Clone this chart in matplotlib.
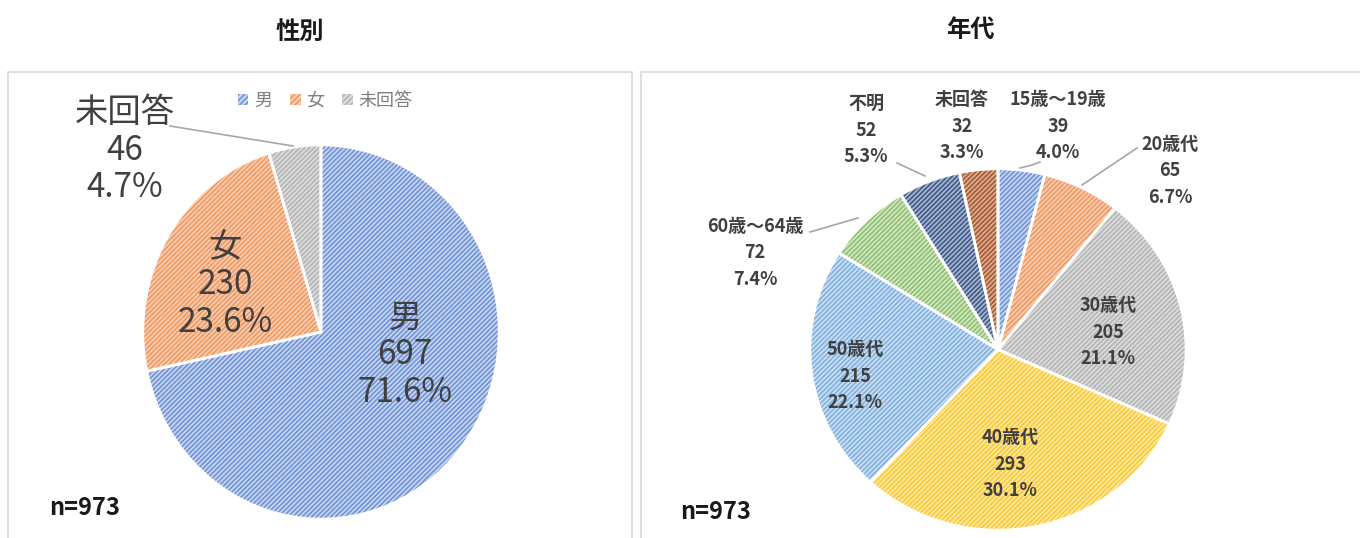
import matplotlib
matplotlib.use("Agg")
import matplotlib.pyplot as plt
from matplotlib.patches import Rectangle, Patch
from matplotlib.lines import Line2D

plt.rcParams['font.family'] = ['Noto Sans CJK JP', 'DejaVu Sans']
plt.rcParams['hatch.linewidth'] = 1.2

W, H = 1360, 538

# ---- data ----
sex_labels = ["男", "女", "未回答"]
sex_counts = [697, 230, 46]
sex_pct = [71.6, 23.6, 4.7]

age_labels = ["15歳～19歳", "20歳代", "30歳代", "40歳代", "50歳代",
              "60歳～64歳", "不明", "未回答"]
age_counts = [39, 65, 205, 293, 215, 72, 52, 32]
age_pct = [4.0, 6.7, 21.1, 30.1, 22.1, 7.4, 5.3, 3.3]

# light fill / hatch colour pairs (Office palette, washed out by the hatch)
sex_face = ["#c9d6f0", "#f8cdb3", "#dcdcdc"]
sex_hatch = ["#6f93d6", "#f09a62", "#b5b5b5"]
age_face = ["#c9d6f0", "#f8cdb3", "#dcdcdc", "#fde9a8", "#cde0f3", "#d2e6c4",
            "#a9b6cc", "#d9ad96"]
age_hatch = ["#6f93d6", "#f09a62", "#b5b5b5", "#ffc933", "#80b1df", "#8fc06f",
             "#3f5a8c", "#a85a2e"]


def px(x, y):
    return x / W, 1 - y / H


def pie_axes(x0, y0, x1, y1):
    ax = fig.add_axes([x0 / W, 1 - y1 / H, (x1 - x0) / W, (y1 - y0) / H])
    ax.axis('off')
    return ax


def hatched_pie(ax, vals, face, hatch):
    wedges, _ = ax.pie(vals, startangle=90, counterclock=False, radius=1,
                       colors=face, wedgeprops=dict(linewidth=0))
    for w, hc in zip(wedges, hatch):
        w.set_hatch('///////')
        w.set_edgecolor(hc)
        w.set_linewidth(0)
    ax.pie(vals, startangle=90, counterclock=False, radius=1,
           colors=['none'] * len(vals),
           wedgeprops=dict(linewidth=2, edgecolor='white'))
    # stretch the pie to fill the axes box (slightly elliptic like the source)
    ax.set_aspect('auto')
    ax.set_xlim(-1.01, 1.01); ax.set_ylim(-1.01, 1.01)
    return wedges


def leader(pts):
    xs = [px(x, y)[0] for x, y in pts]
    ys = [px(x, y)[1] for x, y in pts]
    fig.add_artist(Line2D(xs, ys, color='#a6a6a6', lw=1.2))


fig = plt.figure(figsize=(W / 100, H / 100), dpi=100)

# panel frames
fig.add_artist(Rectangle(px(8, 545), 624 / W, 473 / H, fill=False,
                         edgecolor='#d9d9d9', lw=1.2))
fig.add_artist(Rectangle(px(641, 545), 730 / W, 473 / H, fill=False,
                         edgecolor='#d9d9d9', lw=1.2))

# titles
fig.text(*px(300, 32), "性別", ha='center', va='center', fontsize=17.5,
         fontweight='bold', color='#1a1a1a')
fig.text(*px(970, 30), "年代", ha='center', va='center', fontsize=17.5,
         fontweight='bold', color='#1a1a1a')

# ---- left: sex ----
ax1 = pie_axes(141, 143, 501, 521)
hatched_pie(ax1, sex_counts, sex_face, sex_hatch)

big = dict(ha='center', va='center', fontsize=24, color='#404040',
           linespacing=1.08)
sex_pos = [(405, 355), (225, 285), (125, 150)]
for lab, n, p, (x, y) in zip(sex_labels, sex_counts, sex_pct, sex_pos):
    fig.text(*px(x, y), f"{lab}\n{n}\n{p:.1f}%", **big)
leader([(170, 126), (293, 146)])

handles = [Patch(facecolor=f, edgecolor=h, hatch='//////', lw=0)
           for f, h in zip(sex_face, sex_hatch)]
fig.legend(handles, sex_labels, loc='center', bbox_to_anchor=px(325, 101),
           ncol=3, frameon=False, fontsize=13, handlelength=0.6,
           handleheight=0.6, handletextpad=0.3, columnspacing=1.0,
           labelcolor='#7f7f7f')

fig.text(*px(85, 508), "n=973", ha='center', va='center', fontsize=17,
         fontweight='bold', color='#1a1a1a')

# ---- right: age ----
ax2 = pie_axes(808, 167, 1188, 532)
hatched_pie(ax2, age_counts, age_face, age_hatch)

small = dict(ha='center', va='center', fontsize=13, color='#404040',
             fontweight='bold', linespacing=1.5)
age_pos = [(1058, 126), (1170, 171), (1108, 332), (1010, 464), (855, 376),
           (755, 253), (866, 130), (962, 126)]
for lab, n, p, (x, y) in zip(age_labels, age_counts, age_pct, age_pos):
    fig.text(*px(x, y), f"{lab}\n{n}\n{p:.1f}%", **small)

leader([(1020, 168), (1032, 165), (1040, 162)])
leader([(1137, 148), (1082, 185)])
leader([(810, 232), (858, 218)])
leader([(897, 163), (925, 176)])

fig.text(*px(716, 512), "n=973", ha='center', va='center', fontsize=17,
         fontweight='bold', color='#1a1a1a')

fig.savefig("out.png", dpi=100)
